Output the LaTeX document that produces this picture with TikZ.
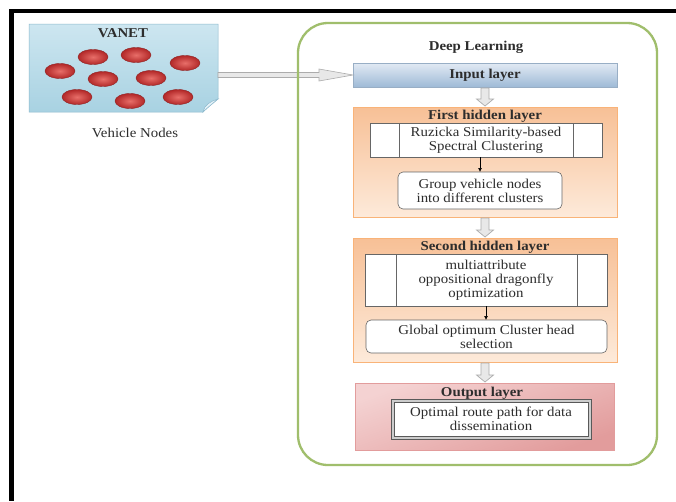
\documentclass[tikz,border=0pt]{standalone}
\usepackage{fontspec}
\setmainfont{Liberation Serif}[FakeStretch=1.1]
\usetikzlibrary{shapes.geometric,arrows.meta,calc}
\definecolor{txtc}{RGB}{45,45,45}
\definecolor{greenc}{RGB}{160,190,108}
\definecolor{vanetA}{RGB}{205,230,240}
\definecolor{vanetB}{RGB}{168,210,226}
\definecolor{vanetE}{RGB}{140,185,205}
\definecolor{inA}{RGB}{226,234,244}
\definecolor{inB}{RGB}{158,186,214}
\definecolor{orA}{RGB}{247,192,150}
\definecolor{orB}{RGB}{253,234,218}
\definecolor{pkA}{RGB}{244,210,210}
\definecolor{pkB}{RGB}{226,156,156}
\definecolor{redA}{RGB}{232,110,105}
\definecolor{redB}{RGB}{178,40,40}
\newcommand\blockdown[2]{%
  \filldraw[barrow] ($(#1.south)+(-4,1)$) -- ($(#2.north)+(-4,-8)$) -- ($(#2.north)+(-8.5,-8)$) -- ($(#2.north)+(0,-1)$) -- ($(#2.north)+(8.5,-8)$) -- ($(#2.north)+(4,-8)$) -- ($(#1.south)+(4,1)$) -- cycle;}
\begin{document}
\begin{tikzpicture}[x=1pt,y=-1pt,
  txt/.style={font=\fontsize{13.5}{14}\selectfont, text=txtc, align=center, inner sep=0pt},
  ttl/.style={font=\fontsize{13.5}{14}\selectfont\bfseries, text=txtc, align=center, inner sep=0pt},
  box/.style={inner sep=0pt, outer sep=0pt},
  veh/.style={ellipse, minimum width=30pt, minimum height=15pt, inner sep=0pt, draw=redB!80!black, line width=0.4pt, inner color=redA, outer color=redB},
  barrow/.style={fill=gray!18, draw=gray!65, line width=0.7pt},
  procbox/.style={box, draw=gray!80!black, line width=0.6pt, fill=white},
  roundbox/.style={box, draw=gray!80!black, line width=0.6pt, fill=white, rounded corners=5pt}]
\useasboundingbox (0,0) rectangle (676,501);
\fill[white] (0,0) rectangle (676,501);
% page borders
\fill[black] (9,9) rectangle (14,501);
\fill[black] (9,9) rectangle (676,13);

% VANET
\node[box, minimum width=189pt, minimum height=88pt] (vanet) at (123.5,68) {};
\shade[top color=vanetA, bottom color=vanetB, draw=vanetE, line width=0.5pt]
  (vanet.north west) -- (vanet.north east) -- ($(vanet.south east)+(0,-13)$)
  .. controls ($(vanet.south east)+(-6,-8)$) and ($(vanet.south east)+(-11,-4)$) .. ($(vanet.south east)+(-15,0)$)
  -- (vanet.south west) -- cycle;
\filldraw[fill=vanetA!50!white, draw=vanetE, line width=0.5pt]
  ($(vanet.south east)+(-15,0)$) .. controls ($(vanet.south east)+(-14,-7)$) and ($(vanet.south east)+(-7,-11)$) .. ($(vanet.south east)+(0,-13)$)
  .. controls ($(vanet.south east)+(-6,-8)$) and ($(vanet.south east)+(-11,-4)$) .. cycle;
\node[ttl] (vt) at (123,33) {VANET};
\node[veh] (v1) at (93,57) {};
\node[veh] (v2) at (136,55) {};
\node[veh] (v3) at (185,63) {};
\node[veh] (v4) at (60,71) {};
\node[veh] (v5) at (103,79) {};
\node[veh] (v6) at (151,78) {};
\node[veh] (v7) at (77,97) {};
\node[veh] (v8) at (130,101) {};
\node[veh] (v9) at (178,97) {};
\node[txt] (vn) at (135,133) {Vehicle Nodes};

% Layers
\node[box, minimum width=264pt, minimum height=24pt, top color=inA, bottom color=inB, draw=inB!80!gray, line width=0.4pt] (input) at (485,75) {};
\node[ttl] (inputt) at (input) {Input layer};

% arrow VANET -> input
\filldraw[barrow, line width=0.6pt] ($(vanet.east |- input.west)+(0,-2.5)$) -- ($(input.west)+(-34,-2.5)$) -- ($(input.west)+(-34,-6)$) -- (input.west) -- ($(input.west)+(-34,6)$) -- ($(input.west)+(-34,2.5)$) -- ($(vanet.east |- input.west)+(0,2.5)$) -- cycle;

% Deep learning container
\node[box, draw=greenc, line width=2.3pt, rounded corners=30pt, minimum width=359pt, minimum height=442pt] (dl) at (477.5,244) {};
\node[ttl] (dlt) at (476,47) {Deep Learning};

% First hidden layer
\node[box, minimum width=264pt, minimum height=110pt, top color=orA, bottom color=orB, draw=orA!80!orange, line width=0.3pt] (first) at (485,162) {};
\node[ttl] (firstt) at (485,116) {First hidden layer};
\node[procbox, minimum width=232pt, minimum height=34pt] (proc1) at (486,140) {};
\draw[gray!80!black, line width=0.6pt] ([xshift=29pt]proc1.north west) -- ([xshift=29pt]proc1.south west);
\draw[gray!80!black, line width=0.6pt] ([xshift=-29pt]proc1.north east) -- ([xshift=-29pt]proc1.south east);
\node[txt] at (proc1) {Ruzicka Similarity-based\\Spectral Clustering};
\node[roundbox, minimum width=164pt, minimum height=37pt] (round1) at (480,190.5) {};
\node[txt] at (round1) {Group vehicle nodes\\into different clusters};
\draw[-{Latex[length=4pt,width=4pt]}, line width=0.7pt, black] (round1.north |- proc1.south) -- (round1.north);

% Second hidden layer
\node[box, minimum width=264pt, minimum height=124pt, top color=orA, bottom color=orB, draw=orA!80!orange, line width=0.3pt] (second) at (485,300) {};
\node[ttl] (secondt) at (485,247) {Second hidden layer};
\node[procbox, minimum width=242pt, minimum height=52pt] (proc2) at (486,280) {};
\draw[gray!80!black, line width=0.6pt] ([xshift=31pt]proc2.north west) -- ([xshift=31pt]proc2.south west);
\draw[gray!80!black, line width=0.6pt] ([xshift=-30pt]proc2.north east) -- ([xshift=-30pt]proc2.south east);
\node[txt] at (proc2) {multiattribute\\oppositional dragonfly\\optimization};
\node[roundbox, minimum width=241pt, minimum height=33pt] (round2) at (486.5,336.5) {};
\node[txt] at (round2) {Global optimum Cluster head\\selection};
\draw[-{Latex[length=4pt,width=4pt]}, line width=0.7pt, black] (proc2.south) -- (proc2.south |- round2.north);

% Output layer
\node[box, minimum width=259pt, minimum height=67pt, shading=axis, top color=pkA, bottom color=pkB, shading angle=20, draw=pkB, line width=0.3pt] (output) at (485,416.5) {};
\node[ttl] (outputt) at (482,393) {Output layer};
\node[box, minimum width=200pt, minimum height=40pt, fill=gray!40, draw=gray!70!black, line width=0.6pt] (frame) at (491,419) {};
\filldraw[fill=white, draw=gray!70!black, line width=0.5pt] ([shift={(3pt,3pt)}]frame.south west) rectangle ([shift={(-3pt,-3pt)}]frame.north east);
\node[txt] at (frame) {Optimal route path for data\\dissemination};

% block arrows
\blockdown{input}{first}
\blockdown{first}{second}
\blockdown{second}{output}
\end{tikzpicture}
\end{document}
